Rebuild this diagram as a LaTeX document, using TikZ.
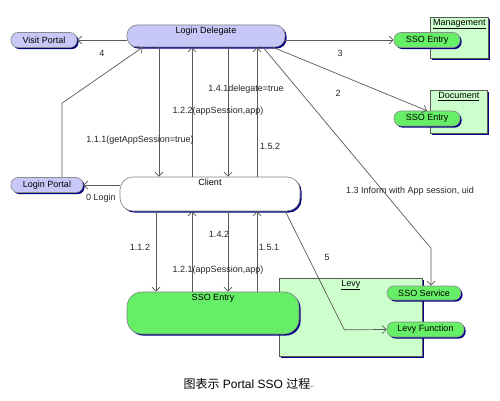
\documentclass[tikz,border=0pt]{standalone}
\usepackage{fontspec}
\setmainfont{Liberation Sans}
\newfontfamily\cjkfont{Noto Sans CJK SC}
\newfontfamily\symfont{DejaVu Sans}
\usetikzlibrary{arrows.meta,shadows,positioning}
\definecolor{lav}{HTML}{C8C8F8}
\definecolor{sgreen}{HTML}{66EE66}
\definecolor{pgreen}{HTML}{CCFFCC}
\definecolor{navy}{HTML}{000080}
\definecolor{wire}{HTML}{5A5A5A}

\begin{document}
\begin{tikzpicture}[x=1pt,y=-1pt,font=\fontsize{9}{10.5}\selectfont,
    >={Straight Barb[length=4pt,width=8pt]}]
    \tikzstyle{navyshadow}=[drop shadow={shadow xshift=1.6pt,shadow yshift=-1.6pt,fill=navy,opacity=1}]
    \tikzstyle{pill}=[rectangle, rounded corners=7pt, draw=gray!90, line width=0.6pt, navyshadow, inner sep=0pt, minimum height=15]
    \tikzstyle{blob}=[rectangle, draw=gray, line width=0.6pt, navyshadow, inner sep=0pt]
    \tikzstyle{pkg}=[rectangle, draw=gray!70!black, line width=0.6pt, fill=pgreen, navyshadow, anchor=north west, inner sep=0pt]
    \tikzstyle{flow}=[->, draw=wire, line width=0.7pt]
    \tikzstyle{msg}=[text=black!85, inner sep=1pt]
    \tikzstyle{title}=[anchor=north, inner sep=2pt]
    \fill[white] (0,0) rectangle (500,401);
    \useasboundingbox (0,0) rectangle (500,401);

    % packages
    \node[pkg, minimum width=58, minimum height=41, label={[title]north:\underline{Management}}] (mg) at (430,17) {};
    \node[pkg, minimum width=57, minimum height=43, label={[title]north:\underline{Document}}] (dc) at (430,90) {};
    \node[pkg, minimum width=143, minimum height=78, label={[title]north:\underline{Levy}}] (lv) at (279,278) {};

    % pills
    \node[pill, fill=lav, minimum width=66] (vp) at (44,40) {Visit Portal};
    \node[pill, fill=lav, minimum width=72] (lp) at (47,185) {Login Portal};
    \node[pill, fill=sgreen, minimum width=66] (se1) at (427,40) {SSO Entry};
    \node[pill, fill=sgreen, minimum width=66] (se2) at (427,118.5) {SSO Entry};
    \node[pill, fill=sgreen, minimum width=74, minimum height=14] (ss) at (424,293) {SSO Service};
    \node[pill, fill=sgreen, minimum width=77] (lf) at (425.5,329.5) {Levy Function};

    % big shapes
    \node[blob, fill=lav, rounded corners=10pt, minimum width=158, minimum height=22,
        label={[title]north:Login Delegate}] (ld) at (206,36) {};
    \node[blob, fill=white, rounded corners=13pt, minimum width=180, minimum height=34,
        label={[title]north:Client}] (cl) at (210,194) {};
    \node[blob, fill=sgreen, rounded corners=15pt, minimum width=172, minimum height=42,
        label={[title]north:SSO Entry}] (se) at (213,313) {};

    % connectors
    \foreach \x in {156,159,192,228,257}
        \coordinate (u\x) at (\x,0);
    \foreach \x/\s/\t in {159/ld.south/cl.north, 192/cl.north/ld.south,
                          228/ld.south/cl.north, 257/cl.north/ld.south,
                          156/cl.south/se.north, 192/se.north/cl.south,
                          228/cl.south/se.north, 257/se.north/cl.south}
        \draw[flow] (u\x |- \s) -- (u\x |- \t);
    \draw[flow] (vp.east -| ld.west) -- (vp.east);
    \draw[flow] (se1.west -| ld.east) -- (se1.west);
    \draw[flow] ([xshift=67pt]ld.south) -- (se2.north);
    \draw[flow] ([xshift=57pt]ld.south) -- ++(168,201) -- ([xshift=7pt]ss.north);
    \draw[flow] (lp.east -| cl.west) -- (lp.east);
    \draw[flow] ([xshift=15pt]lp.north) -- ++(0,-74) -- ([xshift=16pt]ld.south west);
    \draw[flow] ([xshift=-15pt]cl.south east) -- ++(59,118.5) -- (lf.west);

    % labels
    \node[msg] (n4) at (102,53) {4};
    \node[msg] (n3) at (340,53) {3};
    \node[msg] (n2) at (338,93) {2};
    \node[msg] (n5) at (327,257) {5};
    \node[msg] (n0) at (101,198) {0 Login};
    \node[msg] (n111) at (140,140) {1.1.1(getAppSession=true)};
    \node[msg] (n122) at (218,111) {1.2.2(appSession,app)};
    \node[msg] (n141) at (246,89) {1.4.1delegate=true};
    \node[msg] (n152) at (270,146) {1.5.2};
    \node[msg] (n112) at (140,247) {1.1.2};
    \node[msg] (n121) at (218,270) {1.2.1(appSession,app)};
    \node[msg] (n142) at (219,234) {1.4.2};
    \node[msg] (n151) at (269,247) {1.5.1};
    \node[msg] (n13) at (410,191) {1.3 Inform with App session, uid};

    % caption
    \node[font=\fontsize{12}{14}\selectfont] (cap) at (249,384)
        {{\cjkfont 图表示} Portal SSO {\cjkfont 过程}{\symfont\fontsize{5}{6}\selectfont\color{gray}↵}};
\end{tikzpicture}
\end{document}
